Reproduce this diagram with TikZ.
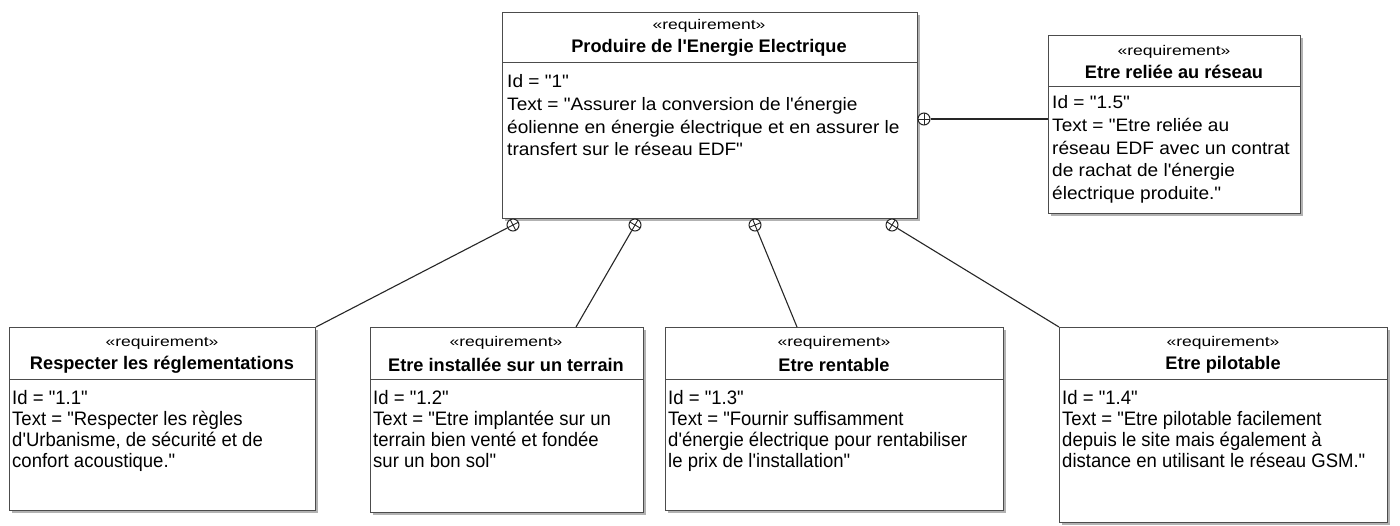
\documentclass[tikz,border=0pt]{standalone}
\usepackage{fontspec}
\setmainfont{Liberation Sans}[Ligatures=TeXOff]
\newfontfamily\upbodyfont{Liberation Sans}[Ligatures=TeXOff, FakeStretch=1.06]
\newfontfamily\lowbodyfont{Liberation Sans}[Ligatures=TeXOff, FakeStretch=0.95]
\newfontfamily\stereofont{Liberation Sans}[Ligatures=TeXOff, FakeStretch=1.25]
\usetikzlibrary{calc,shadows}
\tikzset{
  reqbox/.style={draw=black!70, line width=1pt, fill=white, anchor=north west, inner sep=0pt,
    drop shadow={shadow xshift=2pt, shadow yshift=-2pt, fill=black!30, opacity=1}},
  stereo/.style={inner sep=0pt, font=\stereofont\fontsize{14}{16}\selectfont},
  title/.style={inner sep=0pt, font=\fontsize{18.2}{20}\selectfont\bfseries},
  body/.style={inner sep=0pt, anchor=north west, align=left, font=\upbodyfont\fontsize{18}{22.7}\selectfont},
  lbody/.style={inner sep=0pt, anchor=north west, align=left, font=\lowbodyfont\fontsize{19.5}{21}\selectfont},
  sep/.style={draw=black!70, line width=1pt},
  conn/.style={draw=black!85, line width=1.1pt},
  circ/.style={circle, draw=black!85, line width=1pt, fill=white, minimum size=12pt, inner sep=0pt},
  crs/.style={draw=black!85, line width=0.9pt}
}
\begin{document}
\begin{tikzpicture}[x=1pt,y=-1pt]
\useasboundingbox[fill=white] (0,0) rectangle (1400,525);

% main requirement
\node[reqbox, minimum width=415pt, minimum height=206pt] (m) at (502,12) {};
\draw[sep] (502,62) coordinate (ms1) -- (917,62) coordinate (ms2);
\node[stereo] (mst) at (709,26) {«requirement»};
\node[title] (mti) at (709,48) {Produire de l'Energie Electrique};
\node[body] (mbo) at (507,74.5) {Id = "1"\\Text = "Assurer la conversion de l'énergie\\éolienne en énergie électrique et en assurer le\\transfert sur le réseau EDF"};

% 1.5
\node[reqbox, minimum width=252pt, minimum height=178pt] (b15) at (1048,35) {};
\draw[sep] (1048,86) coordinate (s15a) -- (1300,86) coordinate (s15b);
\node[stereo] (st15) at (1174,52) {«requirement»};
\node[title] (ti15) at (1174,72) {Etre reliée au réseau};
\node[body] (bo15) at (1052,95.5) {Id = "1.5"\\Text = "Etre reliée au\\réseau EDF avec un contrat\\de rachat de l'énergie\\électrique produite."};

% 1.1
\node[reqbox, minimum width=306pt, minimum height=183pt] (b11) at (9,327) {};
\draw[sep] (9,379) coordinate (s11a) -- (315,379) coordinate (s11b);
\node[stereo] (st11) at (162,343) {«requirement»};
\node[title] (ti11) at (162,365) {Respecter les réglementations};
\node[lbody] (bo11) at (12,390) {Id = "1.1"\\Text = "Respecter les règles\\d'Urbanisme, de sécurité et de\\confort acoustique."};

% 1.2
\node[reqbox, minimum width=273pt, minimum height=185pt] (b12) at (370,327) {};
\draw[sep] (370,379) coordinate (s12a) -- (643,379) coordinate (s12b);
\node[stereo] (st12) at (506,343) {«requirement»};
\node[title] (ti12) at (506,365) {Etre installée sur un terrain};
\node[lbody] (bo12) at (373,390) {Id = "1.2"\\Text = "Etre implantée sur un\\terrain bien venté et fondée\\sur un bon sol"};

% 1.3
\node[reqbox, minimum width=338pt, minimum height=183pt] (b13) at (665,327) {};
\draw[sep] (665,379) coordinate (s13a) -- (1003,379) coordinate (s13b);
\node[stereo] (st13) at (834,343) {«requirement»};
\node[title] (ti13) at (834,365) {Etre rentable};
\node[lbody] (bo13) at (668,390) {Id = "1.3"\\Text = "Fournir suffisamment\\d'énergie électrique pour rentabiliser\\le prix de l'installation"};

% 1.4
\node[reqbox, minimum width=328pt, minimum height=195pt] (b14) at (1059,327) {};
\draw[sep] (1059,379) coordinate (s14a) -- (1387,379) coordinate (s14b);
\node[stereo] (st14) at (1223,343) {«requirement»};
\node[title] (ti14) at (1223,365) {Etre pilotable};
\node[lbody] (bo14) at (1062,390) {Id = "1.4"\\Text = "Etre pilotable facilement\\depuis le site mais également à\\distance en utilisant le réseau GSM."};

% targets
\coordinate (t1) at (b11.north east);
\coordinate (t2) at (576,327);
\coordinate (t3) at (797,327);
\coordinate (t4) at (b14.north west);

% containment circles
\node[circ] (k1) at (513,225) {};
\node[circ] (k2) at (635,225) {};
\node[circ] (k3) at (755,225) {};
\node[circ] (k4) at (892,225) {};
\node[circ] (k5) at (924,119) {};
\coordinate (t5) at (k5 -| b15.west);

\foreach \k/\t in {k1/t1,k2/t2,k3/t3,k4/t4,k5/t5}{
  \draw[conn] (\k) -- (\t);
  \draw[crs] ($(\k)!6pt!(\t)$) -- ($(\k)!6pt!180:(\t)$);
  \draw[crs] ($(\k)!6pt!90:(\t)$) -- ($(\k)!6pt!-90:(\t)$);
}
\end{tikzpicture}
\end{document}
